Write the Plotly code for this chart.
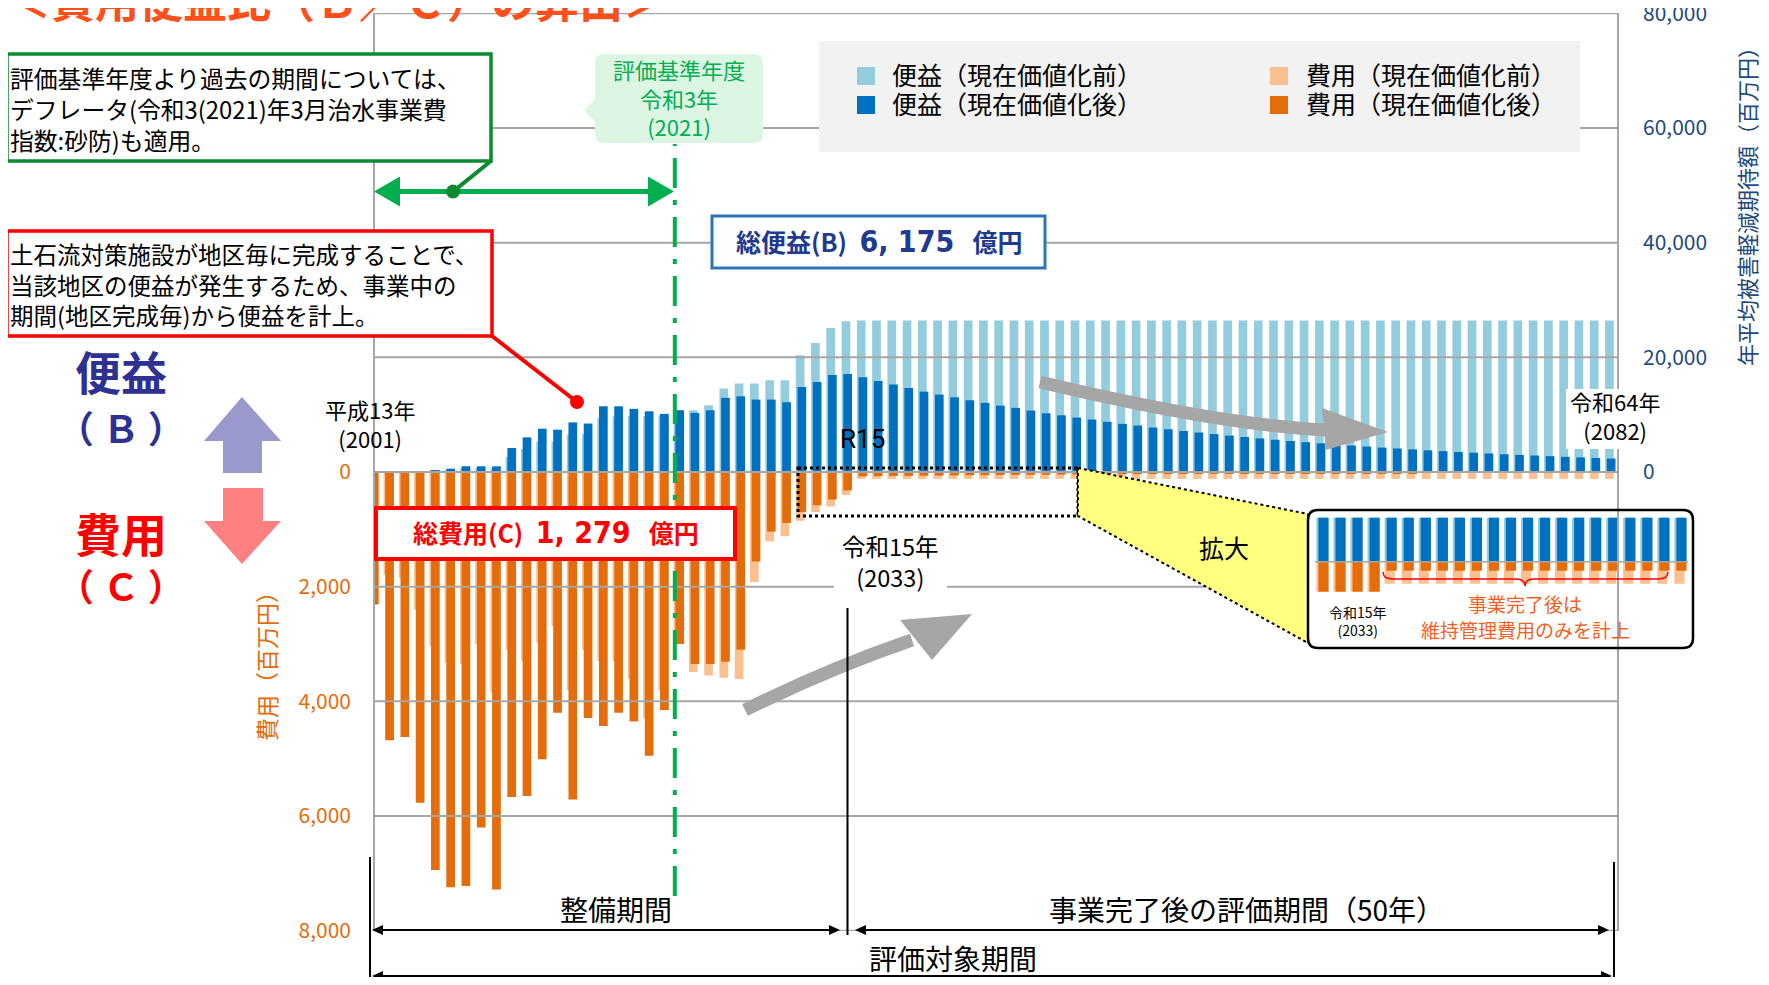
import plotly.graph_objects as go

# ---------------- data ----------------
years = list(range(2001, 2083))

benefit_after = [0, 0, 0, 0, 350, 580, 1000, 990, 990, 4180,
                 6040, 7550, 7380, 8650, 8450, 11460, 11460, 11010, 10590, 10140,
                 10770, 10310, 10770, 12930, 13200, 12630, 12630, 12160, 14840, 15710,
                 16930, 17100, 16520, 15880, 15240, 14660, 14020, 13500, 13030, 12510,
                 12060, 11580, 11180, 10710, 10240, 9890, 9490, 9150, 8750, 8400,
                 8100, 7750, 7450, 7160, 6880, 6610, 6350, 6100, 5860, 5630,
                 5410, 5200, 5000, 4800, 4620, 4440, 4260, 4100, 3940, 3780,
                 3640, 3500, 3360, 3230, 3100, 2980, 2870, 2760, 2650, 2550,
                 2450, 2350]

benefit_before = [0, 0, 0, 0, 200, 350, 620, 640, 660, 2610,
                  4010, 5280, 5350, 6500, 6600, 9410, 9720, 9720, 9720, 9900,
                  10770, 10770, 11640, 14550, 15420, 15420, 16000, 16000, 20350, 22510,
                  25120, 26270, 26440, 26440, 26440, 26440, 26440, 26440, 26440, 26440,
                  26440, 26440, 26440, 26440, 26440, 26440, 26440, 26440, 26440, 26440,
                  26440, 26440, 26440, 26440, 26440, 26440, 26440, 26440, 26440, 26440,
                  26440, 26440, 26440, 26440, 26440, 26440, 26440, 26440, 26440, 26440,
                  26440, 26440, 26440, 26440, 26440, 26440, 26440, 26440, 26440, 26440,
                  26440, 26440]

cost_after = [2310, 4680, 4620, 5770, 6940, 7240, 7220, 6200, 7280, 5670,
              5650, 5010, 4200, 5710, 4290, 4430, 4200, 4350, 4950, 4150,
              3000, 3350, 3350, 3310, 3100, 1560, 1040, 890, 700, 580,
              480, 320, 75, 72, 69, 67, 64, 62, 59, 57,
              55, 53, 51, 49, 47, 45, 43, 41, 40, 38,
              37, 35, 34, 33, 31, 30, 29, 28, 27, 26,
              25, 24, 23, 22, 21, 20, 19, 18, 18, 17,
              16, 16, 15, 14, 14, 13, 13, 12, 12, 11,
              11, 10]

cost_before = [1100, 1790, 1850, 2400, 3040, 3330, 3350, 3000, 3850, 3100,
               3300, 2980, 2690, 3800, 3100, 3300, 3300, 3600, 4300, 3800,
               3000, 3490, 3550, 3590, 3610, 1920, 1210, 1120, 850, 700,
               600, 400, 120, 120, 120, 120, 120, 120, 120, 120,
               120, 120, 120, 120, 120, 120, 120, 120, 120, 120,
               120, 120, 120, 120, 120, 120, 120, 120, 120, 120,
               120, 120, 120, 120, 120, 120, 120, 120, 120, 120,
               120, 120, 120, 120, 120, 120, 120, 120, 120, 120,
               120, 120]

cost_ticks = [0, 2000, 4000, 6000, 8000]
cost_tick_labels = ["0", "2,000", "4,000", "6,000", "8,000"]
benefit_ticks = [0, 20000, 40000, 60000, 80000]
benefit_tick_labels = ["0", "20,000", "40,000", "60,000", "80,000"]

total_benefit_label = "6, 175"
total_cost_label = "1, 279"

# magnified inset (schematic) values
inset_slots = list(range(22))
inset_benefit_before = [44, 44, 44, 44, 44, 44, 44, 44, 44, 44, 44,
                        44, 44, 44, 44, 44, 44, 44, 44, 44, 44, 44]
inset_benefit_after = [44, 44, 44, 44, 44, 44, 44, 44, 44, 44, 44,
                       44, 44, 44, 44, 44, 44, 44, 44, 44, 44, 44]
inset_cost_before = [30, 30, 30, 30, 22, 22, 22, 22, 22, 22, 22,
                     22, 22, 22, 22, 22, 22, 22, 22, 22, 22, 22]
inset_cost_after = [30, 30, 30, 30, 9, 9, 9, 9, 9, 9, 9,
                    9, 9, 9, 9, 9, 9, 9, 9, 9, 9, 9]

names = ["便益（現在価値化前）", "便益（現在価値化後）", "費用（現在価値化前）", "費用（現在価値化後）"]

# ---------------- style ----------------
FONT = "Noto Sans CJK JP"
LB, DB, LO, DO = "#93CDDD", "#0070C0", "#FAC090", "#E46C0A"
GRID = "#A6A6A6"
OFF = 8                      # page body margin added by the html page
W, H = 1769 - 2 * OFF, 985 - 2 * OFF
PL, PR, PT, PB = 374, 1729, 13, 931     # plotting paper rectangle, in page pixels
XL, XR = 374, 1618                      # main chart x extent, in page pixels


def fx(x):
    return (x - PL) / (PR - PL)


def fy(y):
    return (PB - y) / (PB - PT)


def pt(x, y):
    return f"{fx(x):.5f},{fy(y):.5f}"


def poly(points):
    return "M " + " L ".join(pt(x, y) for x, y in points) + " Z"


def rrect(x0, y0, x1, y1, r):
    return (f"M {pt(x0 + r, y0)} L {pt(x1 - r, y0)} Q {pt(x1, y0)} {pt(x1, y0 + r)} "
            f"L {pt(x1, y1 - r)} Q {pt(x1, y1)} {pt(x1 - r, y1)} L {pt(x0 + r, y1)} "
            f"Q {pt(x0, y1)} {pt(x0, y1 - r)} L {pt(x0, y0 + r)} Q {pt(x0, y0)} {pt(x0 + r, y0)} Z")


shapes = []
anns = []


def sh(**kw):
    kw.setdefault("xref", "paper")
    kw.setdefault("yref", "paper")
    shapes.append(kw)


def line(x0, y0, x1, y1, color, width, dash="solid"):
    sh(type="line", x0=fx(x0), y0=fy(y0), x1=fx(x1), y1=fy(y1),
       line=dict(color=color, width=width, dash=dash))


def rect(x0, y0, x1, y1, lc, lw, fill="white", dash="solid"):
    sh(type="rect", x0=fx(x0), y0=fy(y0), x1=fx(x1), y1=fy(y1),
       line=dict(color=lc, width=lw, dash=dash), fillcolor=fill)


def path(p, fill=None, lc=None, lw=0, dash="solid"):
    d = dict(type="path", path=p, line=dict(color=lc or "rgba(0,0,0,0)", width=lw, dash=dash))
    if fill:
        d["fillcolor"] = fill
    sh(**d)


def circle(cx, cy, r, color):
    sh(type="circle", x0=fx(cx - r), x1=fx(cx + r), y0=fy(cy + r), y1=fy(cy - r),
       fillcolor=color, line=dict(color=color, width=0))


def double_arrow(x0, x1, y, color, lw, hl, hw):
    line(x0 + hl * 0.8, y, x1 - hl * 0.8, y, color, lw)
    path(poly([(x0, y), (x0 + hl, y - hw), (x0 + hl, y + hw)]), fill=color)
    path(poly([(x1, y), (x1 - hl, y - hw), (x1 - hl, y + hw)]), fill=color)


def txt(x, y, text, size, color="black", bold=False, xanchor="center", yanchor="middle",
        align="center", bg=None, angle=0, family=FONT):
    d = dict(xref="paper", yref="paper", x=fx(x), y=fy(y),
             text=f"<b>{text}</b>" if bold else text, showarrow=False,
             font=dict(size=size, color=color, family=family),
             xanchor=xanchor, yanchor=yanchor, align=align, textangle=angle)
    if bg:
        d.update(bgcolor=bg, borderpad=1)
    anns.append(d)


# gridlines (drawn above bars as in the reference)
for v in benefit_ticks:
    sh(type="line", xref="paper", yref="y2", x0=fx(XL), x1=fx(XR), y0=v, y1=v,
       line=dict(color=GRID, width=2))
for v in cost_ticks[1:]:
    x_end = 1308 if v == 2000 else XR
    sh(type="line", xref="paper", yref="y", x0=fx(XL), x1=fx(x_end), y0=v, y1=v,
       line=dict(color=GRID, width=2))
line(XL, PT, XL, PB, GRID, 2)
line(XR, PT, XR, PB, GRID, 2)

# evaluation base year dash-dot line
sh(type="line", xref="x", yref="paper", x0=2020.68, x1=2020.68, y0=fy(896), y1=fy(144),
   line=dict(color="#00B050", width=4, dash="30px,12px,5px,12px"))

# legend panel
rect(819, 41, 1580, 152, "#F2F2F2", 0, fill="#F2F2F2")
for (cx, cy), col in zip([(866, 76), (866, 105), (1279, 76), (1279, 105)], [LB, DB, LO, DO]):
    rect(cx - 9, cy - 9, cx + 9, cy + 9, col, 0, fill=col)
txt(890, 74, names[0], 25, xanchor="left")
txt(890, 103, names[1], 25, xanchor="left")
txt(1304, 74, names[2], 25, xanchor="left")
txt(1304, 103, names[3], 25, xanchor="left")

# green note box
rect(7, 54, 491, 161, "#0B8A2F", 3.5)
txt(8, 108, "評価基準年度より過去の期間については、<br>デフレータ(令和3(2021)年3月治水事業費<br>指数:砂防)も適用。",
    23.8, xanchor="left", align="left")
double_arrow(374, 674, 191.6, "#00B050", 5, 26, 15)
line(491, 161, 453, 191.6, "#0B8A2F", 4)
circle(453, 191.6, 7, "#0B8A2F")

# green base-year label
path(rrect(595, 54, 763, 143, 9), fill="#DDF5E3")
path(poly([(597, 97), (584, 110), (597, 124)]), fill="#DDF5E3")
txt(679, 97, "評価基準年度<br>令和3年<br>(2021)", 22, color="#00B050")

# red note box
rect(7, 231, 492, 336, "#FF0000", 3.5)
txt(8, 284, "土石流対策施設が地区毎に完成することで、<br>当該地区の便益が発生するため、事業中の<br>期間(地区完成毎)から便益を計上。",
    23.5, xanchor="left", align="left")
line(492, 336, 577, 402, "#FF0000", 4)
circle(577, 402, 7, "#FF0000")

# total benefit / total cost boxes
NUM = "font-family:'DejaVu Sans Condensed','DejaVu Sans',sans-serif;font-size:30px"
rect(712, 216, 1045, 268, "#2E75B6", 3)
txt(879, 241, f"総便益(B)\u2002<span style=\"{NUM}\">{total_benefit_label}</span>\u2002 億円", 25,
    color="#203A8F", bold=True)
rect(376, 508, 735, 559, "#FF0000", 4)
txt(556, 532, f"総費用(C)\u2002<span style=\"{NUM}\">{total_cost_label}</span>\u2002 億円", 25,
    color="#FF0000", bold=True)

# big B / C indicators
txt(121, 370, "便益", 46, color="#2E3192", bold=True)
txt(121, 427, "（ Ｂ ）", 37, color="#2E3192", bold=True)
txt(121, 532, "費用", 46, color="#FF0000", bold=True)
txt(121, 585, "（ Ｃ ）", 37, color="#FF0000", bold=True)
path(poly([(242, 397), (281, 441), (262, 441), (262, 473), (223, 473), (223, 441), (204, 441)]), fill="#9999CC")
path(poly([(223, 488), (263, 488), (263, 521), (281, 521), (242, 564), (204, 521), (223, 521)]), fill="#FF8080")

# grey trend arrows
path(f"M {pt(1040, 382)} Q {pt(1220, 425)} {pt(1326, 430)}", lc="#A6A6A6", lw=13)
path(poly([(1322, 408), (1388, 432), (1326, 450)]), fill="#A6A6A6")
path(f"M {pt(745, 710)} Q {pt(830, 668)} {pt(912, 640)}", lc="#A6A6A6", lw=13)
path(poly([(900, 620), (972, 614), (932, 660)]), fill="#A6A6A6")

# magnify region
rect(798, 468, 1078, 516, "black", 3, fill="rgba(0,0,0,0)", dash="dot")
path(poly([(1078, 468), (1308, 514), (1308, 643), (1078, 516)]), fill="#FFFF80", lc="black", lw=2, dash="dot")
txt(1224, 547, "拡大", 25)
path(rrect(1308, 510, 1693, 648, 10), lc="black", lw=2.5)
line(1315, 561.7, 1688, 561.7, GRID, 1.5)
brace = (f"M {pt(1383, 572)} Q {pt(1383, 579)} {pt(1393, 579)} L {pt(1516, 579)} "
         f"Q {pt(1525, 579)} {pt(1525, 586)} Q {pt(1525, 579)} {pt(1534, 579)} "
         f"L {pt(1658, 579)} Q {pt(1668, 579)} {pt(1668, 572)}")
path(brace, lc="#FF0000", lw=1.5)
txt(1525, 603, "事業完了後は", 19, color="#F5601E")
txt(1525, 629, "維持管理費用のみを計上", 19, color="#F5601E")
txt(1358, 621, "令和15年<br>(2033)", 14)

# year labels
rect(1566, 389, 1662, 449, "white", 0)
rect(834, 535, 947, 590, "white", 0)
txt(370, 424, "平成13年<br>(2001)", 22)
txt(1615, 416, "令和64年<br>(2082)", 22)
txt(890, 561, "令和15年<br>(2033)", 23.5)
txt(862, 439, "R15", 26, family="Liberation Sans Narrow, Roboto, sans-serif")

# bottom period arrows
line(847.5, 608, 847.5, 935, "black", 2)
line(370, 857, 370, 983, "black", 2)
line(1614, 862, 1614, 983, "black", 2)
double_arrow(372, 840, 930, "black", 2, 11, 5)
double_arrow(855, 1609, 930, "black", 2, 11, 5)
double_arrow(372, 1612, 976, "black", 2, 11, 5)
txt(616, 909, "整備期間", 28)
txt(1246, 909, "事業完了後の評価期間（50年）", 28)
txt(953, 958, "評価対象期間", 28)

# axis titles and page title
txt(1746, 201, "年平均被害軽減期待額（百万円）", 22, color="#1F497D", angle=-90)
txt(266, 661, "費用（百万円）", 23, color=DO, angle=-90)
txt(5, -1, "＜費用便益比（Ｂ／Ｃ）の算出＞", 44, color="#FF4F1A", bold=True, xanchor="left")

# ---------------- figure ----------------
fig = go.Figure()
fig.add_trace(go.Bar(x=years, y=cost_before, name=names[2], yaxis="y", marker=dict(color=LO, line=dict(width=0)),
                     width=0.57, offset=-0.395))
fig.add_trace(go.Bar(x=years, y=cost_after, name=names[3], yaxis="y", marker=dict(color=DO, line=dict(width=0)),
                     width=0.57, offset=-0.285))
fig.add_trace(go.Bar(x=years, y=benefit_before, name=names[0], yaxis="y2", marker=dict(color=LB, line=dict(width=0)),
                     width=0.57, offset=-0.395))
fig.add_trace(go.Bar(x=years, y=benefit_after, name=names[1], yaxis="y2", marker=dict(color=DB, line=dict(width=0)),
                     width=0.57, offset=-0.285))

# inset schematic
fig.add_trace(go.Bar(x=inset_slots, y=inset_benefit_before, xaxis="x3", yaxis="y3", marker=dict(color=LB, line=dict(width=0)),
                     width=0.6, offset=-0.42, hoverinfo="skip"))
fig.add_trace(go.Bar(x=inset_slots, y=inset_benefit_after, xaxis="x3", yaxis="y3", marker=dict(color=DB, line=dict(width=0)),
                     width=0.6, offset=-0.3, hoverinfo="skip"))
fig.add_trace(go.Bar(x=inset_slots, y=[-v for v in inset_cost_before], xaxis="x3", yaxis="y3",
                     marker=dict(color=LO, line=dict(width=0)), width=0.6, offset=-0.42, hoverinfo="skip"))
fig.add_trace(go.Bar(x=inset_slots, y=[-v for v in inset_cost_after], xaxis="x3", yaxis="y3",
                     marker=dict(color=DO, line=dict(width=0)), width=0.6, offset=-0.3, hoverinfo="skip"))

fig.update_layout(
    width=W, height=H,
    margin=dict(l=PL - OFF, r=W - (PR - OFF), t=PT - OFF, b=H - (PB - OFF), autoexpand=False),
    paper_bgcolor="white", plot_bgcolor="rgba(0,0,0,0)",
    barmode="overlay", showlegend=False,
    font=dict(family=FONT),
    xaxis=dict(domain=[0, fx(XR)], range=[2000.98, 2082.45], showgrid=False, zeroline=False,
               showline=False, showticklabels=False, ticks="", automargin=False),
    yaxis=dict(range=[8005, -8005], tickvals=cost_ticks, ticktext=cost_tick_labels,
               tickfont=dict(size=21, color=DO, family=FONT), showgrid=False, zeroline=False,
               showline=False, ticks="", ticklabelstandoff=22, ticklabeloverflow="allow",
               automargin=False),
    yaxis2=dict(range=[-80050, 80050], overlaying="y", side="right", anchor="x",
                tickvals=benefit_ticks, ticktext=benefit_tick_labels,
                tickfont=dict(size=21, color="#1F497D", family=FONT), showgrid=False, zeroline=False,
                showline=False, ticks="", ticklabelstandoff=24, ticklabeloverflow="allow",
                automargin=False),
    xaxis3=dict(domain=[fx(1315), fx(1690)], anchor="y3", range=[-0.5, 21.5], visible=False),
    yaxis3=dict(domain=[fy(598), fy(515)], anchor="x3", range=[-36.3, 46.7], visible=False),
    shapes=shapes,
    annotations=anns,
)

fig.write_html("out.html")
